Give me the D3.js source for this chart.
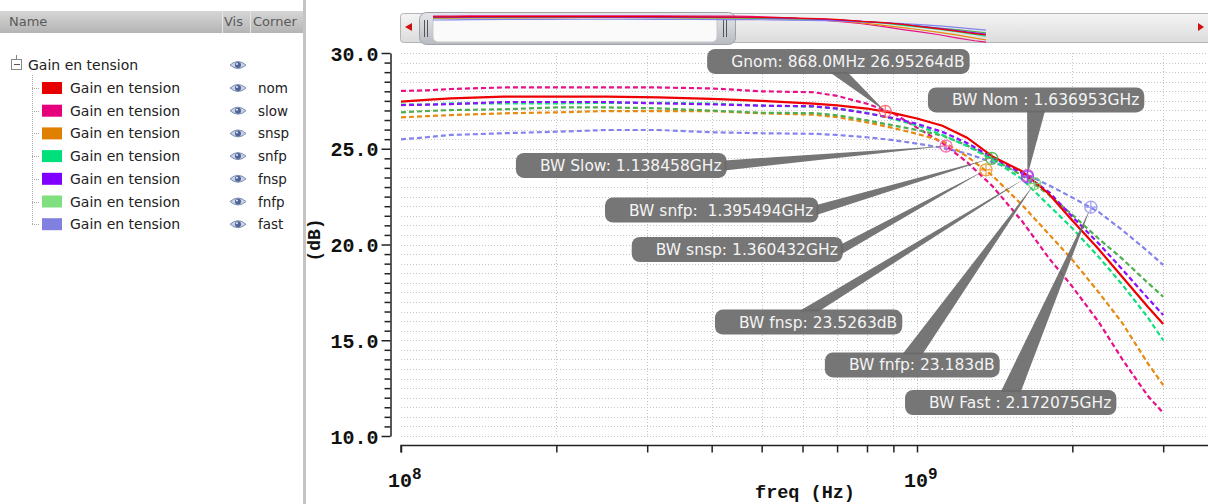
<!DOCTYPE html>
<html><head><meta charset="utf-8">
<script src="https://cdn.jsdelivr.net/npm/d3@7"></script>
<style>
html,body{margin:0;padding:0;background:#fff;overflow:hidden}
svg{display:block}
</style></head><body>
<svg id="c" width="1208" height="504"></svg>
<script>
// ---------------- DATA ----------------
const categories = ["nom", "slow", "snsp", "snfp", "fnsp", "fnfp", "fast"];
const seriesName = "Gain en tension";
const legendColors = ["#e80000", "#e6007e", "#e08000", "#00e07a", "#8000ff", "#80e080", "#8080e0"];
const lineColors   = ["#ee0000", "#e8108a", "#e88a10", "#10e080", "#8a10ff", "#4fae4f", "#8484ec"];

const freqs = [1e8, 1.12e8, 1.25e8, 1.58e8, 2e8, 2.5e8, 3.15e8, 4e8, 5e8, 6.3e8, 7e8, 8e8, 9e8,
               1e9, 1.12e9, 1.25e9, 1.4e9, 1.6e9, 1.8e9, 2e9, 2.25e9, 2.5e9, 2.8e9, 3e9];

const nomGain  = [27.46, 27.55, 27.63, 27.72, 27.72, 27.72, 27.68, 27.60, 27.50, 27.36, 27.26, 27.10, 26.86, 26.58, 26.20, 25.58, 24.60, 23.82, 22.65, 21.25, 19.75, 18.30, 16.75, 15.85];
const slowGain = [28.02, 28.05, 28.12, 28.20, 28.20, 28.20, 28.20, 28.15, 28.00, 27.95, 27.76, 27.35, 26.85, 26.10, 25.30, 24.30, 23.05, 21.20, 19.30, 17.80, 15.95, 14.00, 12.10, 11.20];
const snspGain = [26.64, 26.70, 26.76, 26.85, 26.90, 26.97, 26.97, 26.97, 26.85, 26.78, 26.65, 26.38, 26.08, 25.78, 25.40, 24.60, 23.60, 22.05, 20.55, 19.20, 17.50, 15.90, 13.80, 12.66];
const snfpGain = [27.30, 27.30, 27.37, 27.37, 27.37, 27.40, 27.40, 27.36, 27.25, 27.20, 27.10, 26.88, 26.55, 26.22, 25.72, 25.15, 24.45, 23.40, 22.05, 20.85, 19.35, 17.90, 16.20, 15.00];
const fnspGain = [27.28, 27.30, 27.33, 27.44, 27.44, 27.44, 27.37, 27.32, 27.25, 27.22, 27.10, 26.85, 26.60, 26.30, 25.88, 25.30, 24.55, 23.72, 22.75, 21.45, 20.05, 18.70, 17.20, 16.32];
const fnfpGain = [26.90, 26.97, 27.02, 27.06, 27.16, 27.16, 27.11, 26.99, 26.88, 26.86, 26.75, 26.48, 26.22, 25.98, 25.68, 25.18, 24.48, 23.60, 22.60, 21.55, 20.30, 19.25, 18.00, 17.27];
const fastGain = [25.49, 25.60, 25.72, 25.81, 25.89, 25.98, 25.98, 25.86, 25.81, 25.78, 25.72, 25.60, 25.45, 25.27, 25.05, 24.75, 24.30, 23.75, 23.10, 22.45, 21.70, 20.75, 19.65, 18.93];
const allGains = [nomGain, slowGain, snspGain, snfpGain, fnspGain, fnfpGain, fastGain];

const yTickValues = [10, 15, 20, 25, 30];
const xTickValues = [1e8, 2e8, 3e8, 4e8, 5e8, 6e8, 7e8, 8e8, 9e8, 1e9, 2e9, 3e9];
const xLabelExps = [8, 9];

// markers: text, freq, gain, colour
const markerTexts = ["Gnom: 868.0MHz 26.95264dB", "BW Nom : 1.636953GHz", "BW Slow: 1.138458GHz",
  "BW snfp:  1.395494GHz", "BW snsp: 1.360432GHz", "BW fnsp: 23.5263dB", "BW fnfp: 23.183dB", "BW Fast : 2.172075GHz"];
const markerFreqs = [8.68e8, 1.636953e9, 1.138458e9, 1.395494e9, 1.360432e9, 1.637e9, 1.69e9, 2.172075e9];
const markerGains = [26.95264, 23.6, 25.14, 24.5, 23.9, 23.5263, 23.183, 21.95];
const markerColors = ["#ff5a5a", "#d040c0", "#f060a8", "#40b040", "#f09020", "#9a40ff", "#70d070", "#9090f0"];
// label anchors (left edge, vertical centre) in data space and which side the pointer leaves from
const labelFreqs = [3.92e8, 1.05e9, 1.67e8, 2.485e8, 2.80e8, 4.06e8, 6.63e8, 9.48e8];
const labelGains = [29.56, 27.55, 24.13, 21.8, 19.74, 15.95, 13.71, 11.75];
const labelSides = ["bottom", "bottom", "right", "right", "right", "top", "top", "top"];

// ---------------- DRAW ----------------
const svg = d3.select("#c");
const defs = svg.append("defs");

const x = d3.scaleLog().domain([1e8, 1e10]).range([401, 1433]);
const y = d3.scaleLinear().domain([10, 30]).range([436, 53]);
const plotRight = 1208;

defs.append("clipPath").attr("id", "plotclip").append("rect")
  .attr("x", 401).attr("y", 40).attr("width", plotRight - 401).attr("height", 400);

// ---- left panel ----
const hg = defs.append("linearGradient").attr("id", "hdr").attr("x1", 0).attr("x2", 0).attr("y1", 0).attr("y2", 1);
hg.append("stop").attr("offset", 0).attr("stop-color", "#d6d6d6");
hg.append("stop").attr("offset", 1).attr("stop-color", "#b4b4b4");
const panel = svg.append("g").style("font-family", "'DejaVu Sans', sans-serif");
panel.append("rect").attr("x", 0).attr("y", 11).attr("width", 303).attr("height", 22).attr("fill", "url(#hdr)");
[222, 250].forEach(px => panel.append("line").attr("x1", px + 0.5).attr("x2", px + 0.5).attr("y1", 11).attr("y2", 33).attr("stroke", "#e6e6e6"));
panel.append("text").attr("x", 9).attr("y", 26).attr("font-size", 13).attr("fill", "#5a5a5a").text("Name");
panel.append("text").attr("x", 224).attr("y", 26).attr("font-size", 13).attr("fill", "#5a5a5a").text("Vis");
panel.append("text").attr("x", 253).attr("y", 26).attr("font-size", 13).attr("fill", "#5a5a5a").text("Corner");
panel.append("rect").attr("x", 303).attr("y", 0).attr("width", 3).attr("height", 504).attr("fill", "#c4c4c4");

function eye(cx, cy) {
  const g = panel.append("g");
  g.append("path").attr("d", `M${cx-8},${cy} Q${cx},${cy-7} ${cx+8},${cy} Q${cx},${cy+7} ${cx-8},${cy}Z`)
    .attr("fill", "#c9d2e6").attr("stroke", "#7d8fb5").attr("stroke-width", 1);
  g.append("circle").attr("cx", cx).attr("cy", cy).attr("r", 3).attr("fill", "#4f6494");
  g.append("circle").attr("cx", cx - 1).attr("cy", cy - 1).attr("r", 1).attr("fill", "#e8eef8");
}
// tree root
panel.append("line").attr("x1", 16.5).attr("x2", 16.5).attr("y1", 55).attr("y2", 59).attr("stroke", "#888");
panel.append("rect").attr("x", 11.5).attr("y", 59.5).attr("width", 10).attr("height", 10).attr("fill", "#fff").attr("stroke", "#888");
panel.append("line").attr("x1", 14).attr("x2", 20).attr("y1", 64.5).attr("y2", 64.5).attr("stroke", "#555");
panel.append("text").attr("x", 28).attr("y", 70).attr("font-size", 14).attr("fill", "#222").text(seriesName);
eye(238, 65);
const rowY = i => 88 + i * 22.7;
panel.append("line").attr("x1", 32.5).attr("x2", 32.5).attr("y1", 75).attr("y2", rowY(6))
  .attr("stroke", "#aaa").attr("stroke-dasharray", "1,1");
categories.forEach((c, i) => {
  const cy = rowY(i);
  panel.append("line").attr("x1", 32).attr("x2", 40).attr("y1", Math.round(cy) + 0.5).attr("y2", Math.round(cy) + 0.5)
    .attr("stroke", "#aaa").attr("stroke-dasharray", "1,1");
  panel.append("rect").attr("x", 42).attr("y", cy - 6).attr("width", 20).attr("height", 12).attr("fill", legendColors[i]);
  panel.append("text").attr("x", 70).attr("y", cy + 5).attr("font-size", 14).attr("fill", "#222").text(seriesName);
  eye(238, cy);
  panel.append("text").attr("x", 258).attr("y", cy + 5).attr("font-size", 13.5).attr("fill", "#222").text(c);
});

// ---- scroll bar with overview ----
const tg = defs.append("linearGradient").attr("id", "trk").attr("x1", 0).attr("x2", 0).attr("y1", 0).attr("y2", 1);
tg.append("stop").attr("offset", 0).attr("stop-color", "#f4f4f4");
tg.append("stop").attr("offset", 1).attr("stop-color", "#dcdcdc");
const thg = defs.append("linearGradient").attr("id", "thumb").attr("x1", 0).attr("x2", 0).attr("y1", 0).attr("y2", 1);
thg.append("stop").attr("offset", 0).attr("stop-color", "#e4e6ea");
thg.append("stop").attr("offset", 1).attr("stop-color", "#b8bcc2");
const sb = svg.append("g");
sb.append("rect").attr("x", 400.5).attr("y", 13.5).attr("width", 820).attr("height", 29).attr("rx", 3)
  .attr("fill", "url(#trk)").attr("stroke", "#b4b4b4");
sb.append("path").attr("d", "M405,27 L412,23 L412,31Z").attr("fill", "#d01010");
sb.append("path").attr("d", "M1204,27 L1198,23 L1198,31Z").attr("fill", "#d01010");
sb.append("rect").attr("x", 419.5).attr("y", 12.5).attr("width", 316).attr("height", 32).attr("rx", 7)
  .attr("fill", "url(#thumb)").attr("stroke", "#9ea2a8");
sb.append("rect").attr("x", 433).attr("y", 16).attr("width", 284).attr("height", 26).attr("rx", 5)
  .attr("fill", "#fafafa").attr("stroke", "#c8c8c8");
[424.5, 427.5, 723.5, 726.5].forEach(px => sb.append("line").attr("x1", px).attr("x2", px).attr("y1", 20).attr("y2", 37)
  .attr("stroke", "#555").attr("stroke-width", 1));
const xm = d3.scaleLog().domain([1e8, 3e9]).range([433, 986]);
const ym = d3.scaleLinear().domain([10, 30]).range([44, 13]);
const miniLine = d3.line().x((d, j) => xm(freqs[j])).y(d => ym(d));
[1, 2, 3, 5, 6, 4, 0].forEach(i => {
  sb.append("path").attr("d", miniLine(allGains[i])).attr("fill", "none")
    .attr("stroke", lineColors[i]).attr("stroke-width", 1.2);
});

// ---- grid ----
const grid = svg.append("g").attr("clip-path", "url(#plotclip)");
grid.selectAll("line.h").data(d3.range(10, 30.001, 0.5)).join("line")
  .attr("x1", 401).attr("x2", plotRight).attr("y1", d => Math.round(y(d)) + 0.5).attr("y2", d => Math.round(y(d)) + 0.5)
  .attr("stroke", "#c6c6c6").attr("stroke-dasharray", "1,2");
grid.selectAll("line.v").data(xTickValues.slice(1)).join("line")
  .attr("x1", d => Math.round(x(d)) + 0.5).attr("x2", d => Math.round(x(d)) + 0.5).attr("y1", 53).attr("y2", 436)
  .attr("stroke", "#c6c6c6").attr("stroke-dasharray", "1,2");

// ---- axes ----
const yAxis = d3.axisLeft(y).tickValues(d3.range(10, 30.001, 0.5)).tickSize(6).tickSizeOuter(0)
  .tickFormat(d => yTickValues.includes(d) ? d.toFixed(1) : "");
const yg = svg.append("g").attr("transform", "translate(390.5,0)").call(yAxis);
yg.selectAll("path,line").attr("stroke", "#222").attr("stroke-width", 1.5);
yg.selectAll(".tick").filter(d => yTickValues.includes(d)).select("line").attr("x2", -9);
yg.selectAll("text").attr("x", -12).attr("dy", "0.36em")
  .style("font-family", "'Liberation Mono', monospace").style("font-weight", "bold").style("font-size", "20px").attr("fill", "#111");

const xAxis = d3.axisBottom(x).tickValues(xTickValues).tickSize(7).tickSizeOuter(0).tickFormat("");
const xg = svg.append("g").attr("transform", "translate(0,445.5)").call(xAxis);
xg.selectAll("path,line").attr("stroke", "#222").attr("stroke-width", 1.5);
xg.select("path.domain").attr("d", `M${x(1e8)},7V0H${plotRight + 5}`);

xLabelExps.forEach(e => {
  const t = svg.append("text").attr("x", x(Math.pow(10, e)) - 13).attr("y", 487)
    .style("font-family", "'Liberation Mono', monospace").style("font-weight", "bold").attr("fill", "#111");
  t.append("tspan").style("font-size", "20px").text("10");
  t.append("tspan").style("font-size", "16px").attr("dy", -8).text(String(e));
});
svg.append("text").attr("x", 805).attr("y", 498).attr("text-anchor", "middle")
  .style("font-family", "'Liberation Mono', monospace").style("font-weight", "bold").style("font-size", "18.5px")
  .attr("fill", "#111").text("freq (Hz)");
svg.append("text").attr("transform", "translate(320,240) rotate(-90)").attr("text-anchor", "middle")
  .style("font-family", "'Liberation Mono', monospace").style("font-weight", "bold").style("font-size", "18px")
  .attr("fill", "#111").text("(dB)");

// ---- curves ----
const plot = svg.append("g").attr("clip-path", "url(#plotclip)");
const line = d3.line().x((d, j) => x(freqs[j])).y(d => y(d));
[6, 1, 2, 5, 3, 4, 0].forEach(i => {
  plot.append("path").attr("d", line(allGains[i])).attr("fill", "none")
    .attr("stroke", lineColors[i]).attr("stroke-width", 2.2)
    .attr("stroke-dasharray", i === 0 ? null : "5,3");
});

// ---- marker labels ----
const ann = svg.append("g");
markerTexts.forEach((txt, i) => {
  const lx = x(labelFreqs[i]), cy = y(labelGains[i]);
  const t = ann.append("text").attr("x", lx + 24).attr("y", cy + 5.5).style("white-space", "pre")
    .style("font-family", "'DejaVu Sans', sans-serif").style("font-size", "15.5px").attr("fill", "#f4f4f4").text(txt);
  const w = t.node().getComputedTextLength() + 29;
  const h = 25, top = cy - h / 2;
  const mx = x(markerFreqs[i]), my = y(markerGains[i]);
  let base;
  if (labelSides[i] === "bottom") base = [[lx + w / 2 - 9, top + h - 2], [lx + w / 2 + 9, top + h - 2]];
  else if (labelSides[i] === "top") base = [[lx + w / 2 - 10, top + 2], [lx + w / 2 + 10, top + 2]];
  else base = [[lx + w - 2, cy - 5], [lx + w - 2, cy + 5]];
  ann.insert("path", "text").attr("d", `M${base[0][0]},${base[0][1]} L${mx},${my} L${base[1][0]},${base[1][1]}Z`)
    .attr("fill", "#6a6a6a").attr("opacity", 0.92);
  ann.insert("rect", "text").attr("x", lx).attr("y", top).attr("width", w).attr("height", h).attr("rx", 8)
    .attr("fill", "#6a6a6a").attr("opacity", 0.92);
});
// marker symbols
markerTexts.forEach((txt, i) => {
  const mx = x(markerFreqs[i]), my = y(markerGains[i]);
  const g = ann.append("g").attr("stroke", markerColors[i]).attr("fill", "none").attr("stroke-width", 1.3).attr("opacity", 0.85);
  g.append("circle").attr("cx", mx).attr("cy", my).attr("r", 6);
  g.append("line").attr("x1", mx - 6).attr("x2", mx + 6).attr("y1", my).attr("y2", my);
  g.append("line").attr("x1", mx).attr("x2", mx).attr("y1", my - 6).attr("y2", my + 6);
});
</script>
</body></html>
